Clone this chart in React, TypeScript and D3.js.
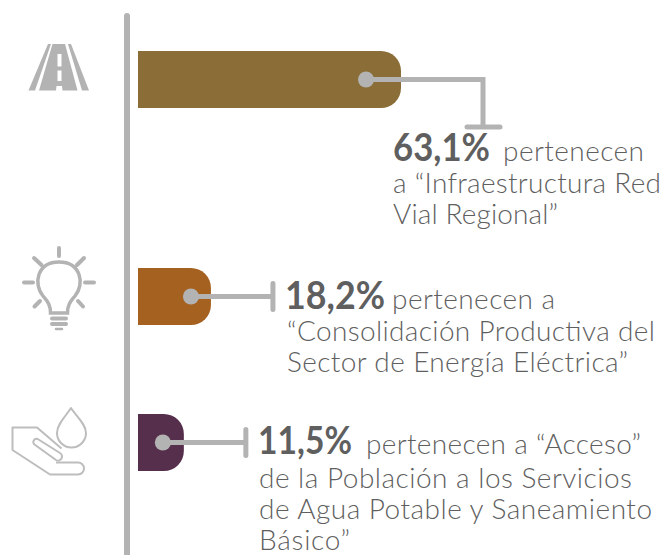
import * as d3 from 'd3';

// Values printed on the labels
const shareLabels = ['63,1%', '18,2%', '11,5%'];
// Bar lengths (the lower two are drawn a bit short of their label)
const drawnValues = [63.1, 17.5, 11.0];
const barColors = ['#8a6d37', '#a5611f', '#562f4c'];

const labelText = ['pertenecen', 'pertenecen a', 'pertenecen a “Acceso”'];
const bodyLines = [
  ['a “Infraestructura Red', 'Vial Regional”'],
  ['“Consolidación Productiva del', 'Sector de Energía Eléctrica”'],
  ['de la Población a los Servicios', 'de Agua Potable y Saneamiento', 'Básico”'],
];

// Layout per row
const rowTops = [51, 268, 414];
const barHeight = 57;
const percentX = [393, 285, 258];
const percentY = [161, 309, 454];
const percentW = [97, 100, 94];
const restX = [503, 392, 366];
const restW = [141, 163, 275];
const bodyX = [393, 287, 259];
const bodyY = [
  [193, 224],
  [341, 372],
  [487.5, 518.5, 549.5],
];
const bodyW = [
  [268, 165],
  [368, 341],
  [373, 393, 91],
];

const GRAY = '#b3b3b3';
const INK = '#5f5f5f';
const FONT = 'Lato, "Open Sans", sans-serif';

const x = d3.scaleLinear().domain([0, 63.1]).range([138, 401]);

// Bar with square left end and rounded right end
function barPath(x0: number, x1: number, top: number, h: number) {
  const r = 20;
  const p = d3.path();
  p.moveTo(x0, top);
  p.lineTo(x1 - r, top);
  p.arcTo(x1, top, x1, top + r, r);
  p.lineTo(x1, top + h - r);
  p.arcTo(x1, top + h, x1 - r, top + h, r);
  p.lineTo(x0, top + h);
  p.closePath();
  return p.toString();
}

function RoadIcon() {
  return (
    <g>
      <path fill={GRAY} d="M28.5 90.5 L35 90.5 L51 44 L48 44 Z" />
      <path fill={GRAY} d="M89 90.5 L82 90.5 L68 44 L71 44 Z" />
      <path
        fill={GRAY}
        fillRule="evenodd"
        d="M39 90.5 L52.5 44 L65 44 L77.5 90.5 L62.5 90.5 L62 86 L56.5 86 L56 90.5 Z M57.5 54 L57.5 66.5 L61.5 66.5 L61.5 54 Z M57.5 70.5 L57.5 81 L61.5 81 L61.5 70.5 Z"
      />
    </g>
  );
}

function BulbIcon() {
  const rays = [
    [59, 248, 59, 256],
    [34, 258, 41.5, 265],
    [84, 258, 77, 265],
    [24, 282.5, 33, 282.5],
    [85, 282.5, 94, 282.5],
    [34.5, 306.5, 40, 301],
    [83, 306.5, 78, 301],
  ];
  return (
    <g fill="none" stroke={GRAY} strokeWidth={4} strokeLinecap="round">
      {rays.map((r, i) => (
        <line key={i} x1={r[0]} y1={r[1]} x2={r[2]} y2={r[3]} />
      ))}
      <path
        strokeWidth={3.5}
        d="M50.5 313 L67.5 313 C67.5 304 71 301 75 296 C85 284 81 262 59 262 C37 262 33 284 43 296 C47 301 50.5 304 50.5 313 Z"
      />
      <line x1={52} y1={318.5} x2={66} y2={318.5} />
      <line x1={52} y1={324} x2={66} y2={324} />
      <line x1={56} y1={329} x2={62} y2={329} strokeWidth={2.5} />
    </g>
  );
}

function HandIcon() {
  return (
    <g fill="none" stroke="#bdbdbd" strokeWidth={2} strokeLinejoin="round">
      <path d="M71 408 C66 416 57 424 57 433 A14.5 14.5 0 0 0 86 433 C86 424 76 416 71 408 Z" />
      <path d="M61.5 448.5 L37 427.5 L12.5 427.5 L12.5 450 L50 474.5 L78 474.5 A6 6 0 0 0 78 462.5 L56 462.5" />
      <path d="M34.5 444.5 A3.2 3.2 0 0 1 38.5 439.5 L60 453 A3.8 3.8 0 0 1 56 460 Z" />
    </g>
  );
}

export default function App() {
  return (
    <svg
      width={665}
      height={555}
      style={{ position: 'absolute', left: 0, top: 0, background: '#fff' }}
      fontFamily={FONT}
    >
      <line x1={127} y1={16} x2={127} y2={558} stroke={GRAY} strokeWidth={6} strokeLinecap="round" />
      <RoadIcon />
      <BulbIcon />
      <HandIcon />

      {drawnValues.map((v, i) => {
        const top = rowTops[i];
        const end = x(v);
        const cy = top + barHeight / 2;
        const cx = end - 35 + (i === 0 ? 0 : i === 1 ? 15 : 14);
        return (
          <g key={i}>
            <path d={barPath(x(0), end, top, barHeight)} fill={barColors[i]} />
            {i === 0 ? (
              <g fill="none" stroke={GRAY} strokeWidth={5}>
                <path d={`M${cx} ${cy} H${end + 82} V127`} />
                <line x1={end + 66} x2={end + 99} y1={127} y2={127} strokeLinecap="round" />
              </g>
            ) : (
              <g fill="none" stroke={GRAY} strokeWidth={5}>
                <line x1={cx} x2={end + 62} y1={cy} y2={cy} />
                <line x1={end + 62} x2={end + 62} y1={cy - 13} y2={cy + 13} strokeLinecap="round" />
              </g>
            )}
            <circle cx={cx} cy={cy} r={8} fill={GRAY} />

            <text
              x={percentX[i]}
              y={percentY[i]}
              fontSize={39}
              fontWeight={700}
              fill={INK}
              textLength={percentW[i]}
              lengthAdjust="spacingAndGlyphs"
            >
              {shareLabels[i]}
            </text>
            <text
              x={restX[i]}
              y={percentY[i]}
              fontSize={28}
              fontWeight={300}
              fill={INK}
              textLength={restW[i]}
            >
              {labelText[i]}
            </text>
            {bodyLines[i].map((line, j) => (
              <text
                key={j}
                x={bodyX[i]}
                y={bodyY[i][j]}
                fontSize={28}
                fontWeight={300}
                fill={INK}
                textLength={bodyW[i][j]}
              >
                {line}
              </text>
            ))}
          </g>
        );
      })}
    </svg>
  );
}
